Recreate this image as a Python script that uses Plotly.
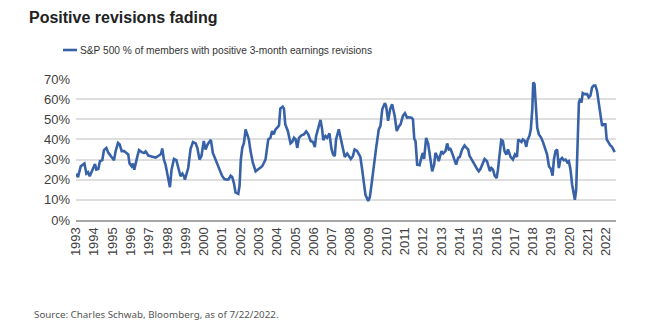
import plotly.graph_objects as go

# Decimal year and % of S&P 500 members with positive 3-month earnings revisions
years = [
    1993.00, 1993.11, 1993.26, 1993.38, 1993.46, 1993.57, 1993.66, 1993.75, 1993.89, 1994.04,
    1994.11, 1994.22, 1994.31, 1994.44, 1994.53, 1994.66, 1994.77, 1994.95, 1995.08, 1995.17,
    1995.30, 1995.39, 1995.50, 1995.63, 1995.75, 1995.86, 1995.93, 1996.04, 1996.11, 1996.19,
    1996.36, 1996.45, 1996.60, 1996.72, 1996.81, 1996.96, 1997.08, 1997.21, 1997.36, 1997.54,
    1997.65, 1997.72, 1997.81, 1997.90, 1998.03, 1998.14, 1998.23, 1998.36, 1998.49, 1998.63,
    1998.72, 1998.82, 1998.91, 1998.96, 1999.04, 1999.14, 1999.27, 1999.40, 1999.55, 1999.64,
    1999.76, 1999.87, 1999.99, 2000.09, 2000.20, 2000.31, 2000.38, 2000.49, 2000.64, 2000.78,
    2000.91, 2000.99, 2001.12, 2001.27, 2001.36, 2001.46, 2001.55, 2001.64, 2001.73, 2001.88,
    2001.95, 2002.02, 2002.10, 2002.19, 2002.28, 2002.37, 2002.46, 2002.55, 2002.68, 2002.83,
    2003.01, 2003.19, 2003.37, 2003.52, 2003.64, 2003.73, 2003.82, 2003.92, 2004.06, 2004.11,
    2004.18, 2004.31, 2004.38, 2004.45, 2004.59, 2004.68, 2004.74, 2004.83, 2004.93, 2005.02,
    2005.11, 2005.20, 2005.34, 2005.47, 2005.60, 2005.71, 2005.84, 2005.97, 2006.07, 2006.14,
    2006.29, 2006.38, 2006.47, 2006.53, 2006.65, 2006.74, 2006.87, 2006.98, 2007.07, 2007.16,
    2007.23, 2007.38, 2007.50, 2007.60, 2007.71, 2007.84, 2007.93, 2008.04, 2008.15, 2008.25,
    2008.38, 2008.47, 2008.56, 2008.66, 2008.75, 2008.84, 2008.99, 2009.08, 2009.17, 2009.30,
    2009.43, 2009.57, 2009.66, 2009.76, 2009.90, 2009.97, 2010.08, 2010.19, 2010.30, 2010.44,
    2010.55, 2010.67, 2010.76, 2010.89, 2011.00, 2011.12, 2011.21, 2011.36, 2011.44, 2011.51,
    2011.58, 2011.67, 2011.80, 2011.91, 2011.98, 2012.05, 2012.16, 2012.27, 2012.40, 2012.49,
    2012.60, 2012.67, 2012.78, 2012.85, 2013.00, 2013.09, 2013.22, 2013.31, 2013.40, 2013.49,
    2013.58, 2013.71, 2013.80, 2013.91, 2014.00, 2014.13, 2014.26, 2014.37, 2014.46, 2014.53,
    2014.64, 2014.77, 2014.86, 2014.95, 2015.04, 2015.13, 2015.25, 2015.36, 2015.49, 2015.56,
    2015.65, 2015.73, 2015.82, 2015.91, 2016.02, 2016.09, 2016.18, 2016.27, 2016.36, 2016.45,
    2016.55, 2016.64, 2016.78, 2016.91, 2017.02, 2017.13, 2017.20, 2017.29, 2017.38, 2017.45,
    2017.56, 2017.64, 2017.71, 2017.82, 2017.89, 2017.97, 2018.02, 2018.09, 2018.15, 2018.24,
    2018.33, 2018.46, 2018.57, 2018.69, 2018.78, 2018.88, 2018.99, 2019.08, 2019.15, 2019.24,
    2019.33, 2019.42, 2019.51, 2019.60, 2019.69, 2019.79, 2019.88, 2019.97, 2020.06, 2020.15,
    2020.24, 2020.30, 2020.37, 2020.44, 2020.52, 2020.59, 2020.66, 2020.73, 2020.84, 2020.97,
    2021.06, 2021.15, 2021.24, 2021.33, 2021.42, 2021.51, 2021.60, 2021.69, 2021.79, 2021.88,
    2021.97, 2022.04, 2022.15, 2022.24, 2022.33, 2022.42, 2022.48,
]
pct_positive = [
    23.0, 21.3, 26.7, 27.7, 28.0, 23.0, 23.7, 21.7, 24.7, 27.8,
    25.0, 25.3, 29.2, 29.7, 34.7, 35.8, 33.3, 31.3, 29.7, 34.2,
    38.3, 37.5, 34.2, 34.2, 33.3, 32.5, 28.0, 26.7, 28.0, 25.0,
    31.7, 34.7, 33.7, 33.3, 34.0, 32.0, 31.7, 31.3, 31.0, 32.0,
    32.8, 35.5, 30.0, 27.5, 21.7, 16.3, 25.0, 30.3, 29.7, 24.5,
    21.7, 23.0, 21.7, 20.0, 22.5, 25.8, 35.3, 38.7, 38.0, 35.8,
    30.0, 32.0, 39.2, 35.0, 37.5, 39.2, 39.8, 33.3, 30.0, 26.7,
    24.7, 22.0, 20.3, 20.0, 20.3, 22.0, 21.3, 18.3, 13.7, 13.0,
    17.0, 30.0, 35.8, 38.3, 45.0, 42.5, 40.0, 34.2, 28.3, 24.2,
    25.3, 26.7, 30.0, 40.0, 40.8, 44.2, 42.5, 45.0, 46.3, 47.0,
    55.3, 56.3, 55.3, 47.5, 44.2, 40.0, 38.0, 38.7, 40.8, 40.0,
    35.8, 40.8, 42.0, 42.5, 44.0, 42.5, 39.2, 38.7, 36.2, 41.7,
    46.7, 49.7, 45.0, 39.7, 41.7, 40.8, 43.0, 35.3, 32.5, 31.7,
    40.0, 45.0, 40.0, 35.0, 31.3, 33.0, 32.0, 30.3, 31.7, 35.0,
    34.3, 32.5, 31.3, 25.0, 18.3, 12.5, 9.5, 11.3, 17.5, 27.5,
    36.2, 45.0, 46.7, 55.0, 58.0, 56.7, 49.2, 55.0, 57.5, 51.7,
    44.2, 46.5, 47.5, 51.7, 53.0, 50.8, 51.0, 50.8, 50.0, 40.3,
    39.2, 27.5, 27.2, 31.3, 33.3, 30.3, 40.8, 38.0, 30.0, 24.2,
    27.5, 33.3, 31.3, 29.2, 34.2, 33.0, 34.2, 38.0, 35.0, 35.3,
    33.3, 30.0, 27.5, 30.8, 31.3, 35.0, 37.0, 35.8, 35.0, 32.0,
    30.0, 28.3, 26.7, 25.3, 24.2, 25.3, 27.5, 30.3, 29.2, 26.7,
    24.2, 25.8, 25.0, 22.0, 20.8, 25.0, 34.2, 39.7, 39.2, 34.2,
    32.5, 35.0, 31.3, 30.0, 32.5, 31.3, 40.0, 39.2, 38.7, 40.0,
    39.2, 36.3, 39.7, 42.0, 45.0, 55.0, 68.3, 67.5, 56.7, 45.8,
    42.5, 40.8, 38.3, 35.3, 32.5, 26.7, 25.3, 22.0, 30.0, 34.2,
    35.0, 25.8, 30.0, 30.8, 29.7, 30.0, 28.7, 29.2, 25.0, 17.5,
    11.7, 10.0, 15.0, 41.7, 58.3, 60.3, 58.3, 63.0, 62.5, 62.5,
    60.8, 61.7, 65.8, 66.7, 66.7, 64.2, 58.3, 51.7, 46.7, 47.5,
    47.5, 40.0, 38.0, 37.0, 36.3, 34.2, 33.7,
]

tick_years = list(range(1993, 2023))
tick_labels = [str(y) for y in tick_years]
y_ticks = [0, 10, 20, 30, 40, 50, 60, 70]
y_labels = [f"{v}%" for v in y_ticks]

series_name = "S&P 500 % of members with positive 3-month earnings revisions"
title_text = "Positive revisions fading"
source_text = "Source: Charles Schwab, Bloomberg, as of 7/22/2022."

LINE_COLOR = "#3862a8"

# Plot area in pixels: x 76..616, y 79..220
W, H = 646, 331
L, R, T, B = 76, 30, 79, 111
pw, ph = W - L - R, H - T - B


def px(X):
    return (X - L) / pw


def py(Y):
    return (H - B - Y) / ph


fig = go.Figure()
fig.add_trace(go.Scatter(
    x=years, y=pct_positive, mode="lines", name=series_name,
    line=dict(color=LINE_COLOR, width=2.6), showlegend=False,
))

fig.update_layout(
    width=W, height=H,
    margin=dict(l=L, r=R, t=T, b=B),
    paper_bgcolor="white", plot_bgcolor="white",
    font=dict(family="Liberation Sans, Arial, sans-serif", color="#404040"),
    xaxis=dict(
        range=[1993.0, 2022.55],
        tickmode="array", tickvals=tick_years, ticktext=tick_labels,
        tickangle=-90, tickfont=dict(size=13, color="#404040"),
        showgrid=False, zeroline=False,
        showline=True, linecolor="#a6a6a6", linewidth=2,
        ticks="", ticklen=0,
    ),
    yaxis=dict(
        range=[0, 70],
        tickmode="array", tickvals=y_ticks, ticktext=y_labels,
        tickfont=dict(size=13, color="#404040"),
        showgrid=True, gridcolor="#dedede", gridwidth=2,
        zeroline=False, ticks="", ticklabelstandoff=5,
    ),
    showlegend=False,
)

# title
fig.add_annotation(
    text="<b>" + title_text + "</b>", xref="paper", yref="paper",
    x=px(27), y=py(17), xanchor="left", yanchor="middle", showarrow=False,
    font=dict(family="Liberation Sans Narrow, Liberation Sans, Arial", size=16, color="#222222"),
)
# legend (line swatch + label)
fig.add_shape(
    type="line", xref="paper", yref="paper",
    x0=px(63), x1=px(77), y0=py(50), y1=py(50),
    line=dict(color=LINE_COLOR, width=2.6),
)
fig.add_annotation(
    text=series_name, xref="paper", yref="paper",
    x=px(78), y=py(50.5), xanchor="left", yanchor="middle", showarrow=False,
    font=dict(size=10.2, color="#333333"),
)
# source
fig.add_annotation(
    text=source_text, xref="paper", yref="paper",
    x=px(32), y=py(314), xanchor="left", yanchor="middle", showarrow=False,
    font=dict(family="Noto Sans, Open Sans, sans-serif", size=9.8, color="#555555"),
)

fig.write_html("out.html")
